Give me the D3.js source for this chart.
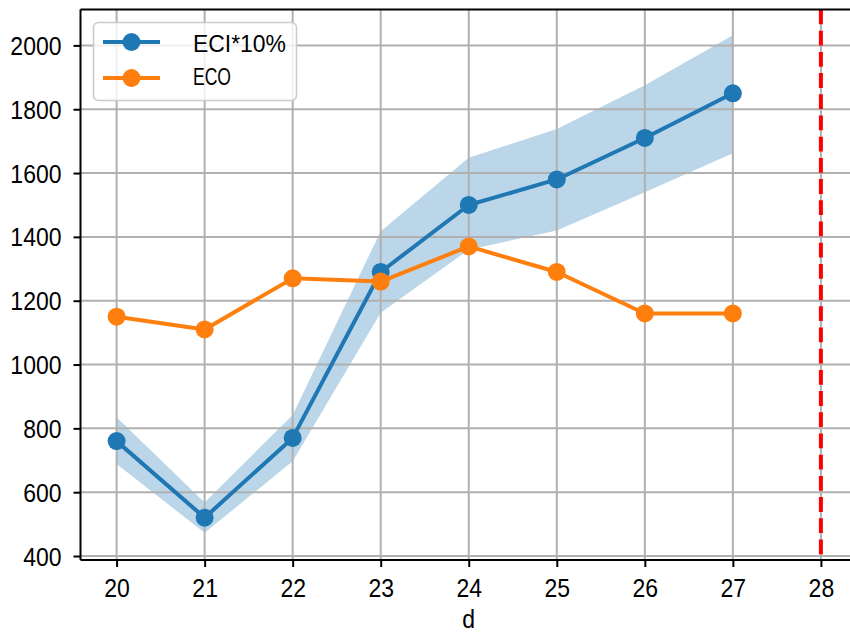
<!DOCTYPE html>
<html><head><meta charset="utf-8">
<script src="https://cdn.jsdelivr.net/npm/d3@7"></script>
<style>body{margin:0;background:#fff}svg{display:block}text{font-family:"Liberation Sans",sans-serif}</style>
</head><body><svg id="c" width="850" height="644"></svg>
<script>
const days = [20,21,22,23,24,25,26,27];
const eci = [760,520,770,1290,1500,1580,1710,1850];
const eciLow = [688,473,697,1162,1360,1420,1540,1662];
const eciHigh = [835,568,842,1418,1648,1738,1875,2032];
const eco = [1150,1110,1270,1260,1370,1290,1160,1160];
const xTicks = [20,21,22,23,24,25,26,27,28];
const yTicks = [400,600,800,1000,1200,1400,1600,1800,2000];
const vLine = 28;
const seriesNames = ["ECI*10%","ECO"];

const svg = d3.select("#c");
const L=80.5, T=9.5, R=857, B=560;
const x = d3.scaleLinear().domain([19.59,28.41]).range([L,R]);
const y = d3.scaleLinear().domain([387.5,2112.5]).range([B,T]);
const C0="#1f77b4", C1="#ff7f0e";
const SX=0.92;

// band
svg.append("path").datum(days.map((d,i)=>({d,lo:eciLow[i],hi:eciHigh[i]})))
  .attr("fill",C0).attr("fill-opacity",0.3)
  .attr("d",d3.area().x(p=>x(p.d)).y0(p=>y(p.lo)).y1(p=>y(p.hi)));

// grid
const g = svg.append("g");
g.selectAll("line.vx").data(xTicks).join("line").attr("x1",d=>x(d)).attr("x2",d=>x(d))
  .attr("y1",T).attr("y2",B).attr("stroke","#b0b0b0").attr("stroke-width",2);
g.selectAll("line.hy").data(yTicks).join("line").attr("y1",d=>y(d)).attr("y2",d=>y(d))
  .attr("x1",L).attr("x2",R).attr("stroke","#b0b0b0").attr("stroke-width",2);

// series
function series(vals,col){
  svg.append("path").datum(vals).attr("fill","none").attr("stroke",col).attr("stroke-width",4)
    .attr("stroke-linejoin","round").attr("d",d3.line().x((v,i)=>x(days[i])).y(v=>y(v)));
  svg.append("g").selectAll("circle").data(vals).join("circle")
    .attr("cx",(v,i)=>x(days[i])).attr("cy",v=>y(v)).attr("r",9).attr("fill",col);
}
series(eci,C0);
series(eco,C1);

// vertical red dashed line
svg.append("line").attr("x1",x(vLine)).attr("x2",x(vLine)).attr("y1",T).attr("y2",B)
  .attr("stroke","red").attr("stroke-width",4).attr("stroke-dasharray","14.8 6.4");

// axes
const xa = svg.append("g").attr("transform",`translate(0,${B})`)
  .call(d3.axisBottom(x).tickValues(xTicks).tickSize(7).tickFormat(d3.format("d")));
const ya = svg.append("g").attr("transform",`translate(${L},0)`)
  .call(d3.axisLeft(y).tickValues(yTicks).tickSize(7).tickFormat(d3.format("d")));
[xa,ya].forEach(a=>{
  a.select(".domain").remove();
  a.selectAll(".tick line").attr("stroke","#000").attr("stroke-width",2);
  a.selectAll(".tick text").attr("font-size",25).attr("fill","#000").attr("font-family","Liberation Sans")
    .attr("transform",`scale(${SX},1)`);
});
xa.selectAll(".tick text").attr("y",37).attr("dy",null);
ya.selectAll(".tick text").attr("x",-19/SX).attr("dy","0.36em");
// spines
svg.append("line").attr("x1",L).attr("x2",L).attr("y1",T).attr("y2",B).attr("stroke","#000").attr("stroke-width",2);
svg.append("line").attr("x1",L).attr("x2",R).attr("y1",B).attr("y2",B).attr("stroke","#000").attr("stroke-width",2);
svg.append("line").attr("x1",L).attr("x2",R).attr("y1",T).attr("y2",T).attr("stroke","#000").attr("stroke-width",2);

const cx = (x(19.59)+x(28.41))/2;
svg.append("text").attr("transform",`translate(${cx},628) scale(${SX},1)`).attr("text-anchor","middle")
  .attr("font-size",25).text("d");

// legend
const lg = svg.append("g");
lg.append("rect").attr("x",93.5).attr("y",22.5).attr("width",203).attr("height",78).attr("rx",5)
  .attr("fill","#fff").attr("fill-opacity",0.8).attr("stroke","#cccccc").attr("stroke-width",1.6);
[[C0,42,52],[C1,78,85]].forEach(([c,yy,bl],i)=>{
  lg.append("line").attr("x1",103).attr("x2",160).attr("y1",yy).attr("y2",yy).attr("stroke",c).attr("stroke-width",4);
  lg.append("circle").attr("cx",131.5).attr("cy",yy).attr("r",9).attr("fill",c);
  lg.append("text").attr("x",193).attr("y",bl).attr("font-size",24)
    .attr("textLength",i===0?93:38).attr("lengthAdjust","spacingAndGlyphs").text(seriesNames[i]);
});
</script></body></html>
